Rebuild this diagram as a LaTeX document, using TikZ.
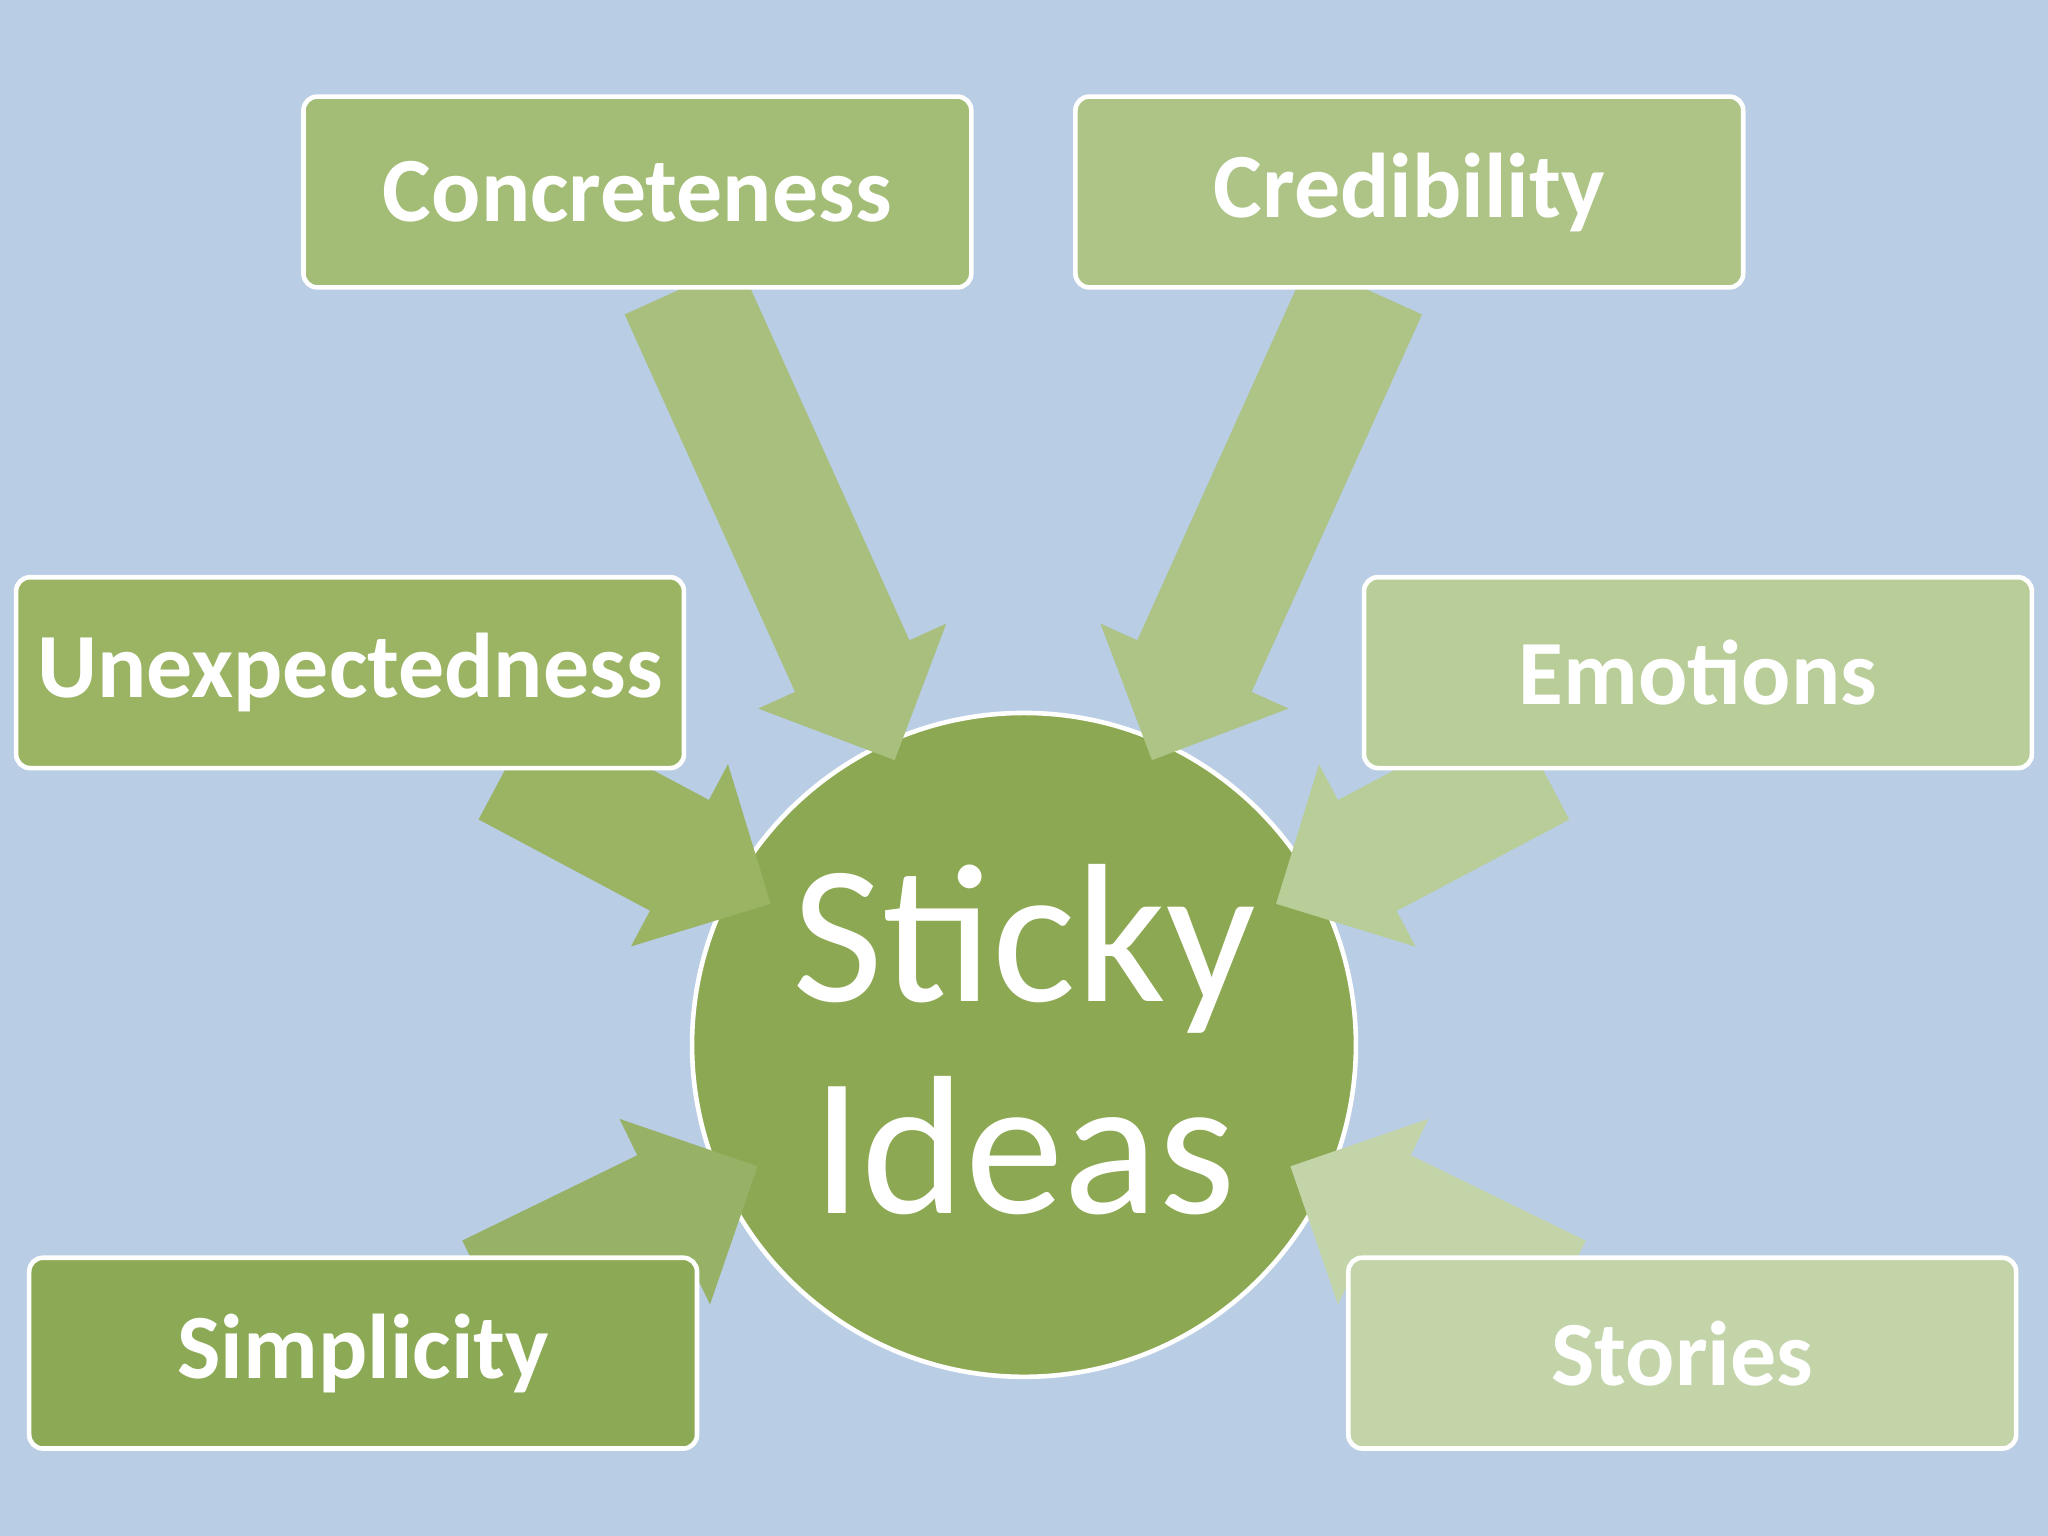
\documentclass[tikz,border=0pt]{standalone}
\usepackage{fontspec}
\setmainfont{Carlito}
\usetikzlibrary{calc}
\definecolor{bg}{HTML}{B9CDE5}
\definecolor{cC}{HTML}{A3BC76}
\definecolor{cR}{HTML}{ADC486}
\definecolor{cU}{HTML}{9AB463}
\definecolor{cE}{HTML}{B8CD97}
\definecolor{cS}{HTML}{8CAA55}
\definecolor{cT}{HTML}{C2D4A8}
\definecolor{cI}{HTML}{8DA852}
\newcommand{\blockarrow}[3]{%
  \coordinate (hb) at ($(#2)!0.79cm!(#1)$);
  \fill[#3] ($(#1)!0.48cm!90:(#2)$) -- ($(hb)!0.48cm!-90:(#1)$) -- ($(hb)!0.79cm!-90:(#1)$) -- (#2)
    -- ($(hb)!0.79cm!90:(#1)$) -- ($(hb)!0.48cm!90:(#1)$) -- ($(#1)!0.48cm!-90:(#2)$) -- cycle;}
\tikzset{box/.style={draw=white,line width=1pt,rounded corners=3pt,minimum width=5.11cm,minimum height=1.46cm,text=white,font=\bfseries\fontsize{20}{24}\selectfont,inner sep=0pt}}
\begin{document}
\begin{tikzpicture}[x=0.01cm,y=-0.01cm]
\fill[bg] (0,0) rectangle (1568,1176);
\node[circle,draw=white,line width=1pt,fill=cI,minimum size=5.08cm,inner sep=0pt] (ideas) at (784,800) {};
\coordinate (a1) at (522,221); \coordinate (t1) at (685,582);
\coordinate (a2) at (1045,221); \coordinate (t2) at (882,582);
\coordinate (a3) at (389,585); \coordinate (t3) at (590,692);
\coordinate (a4) at (1179,585); \coordinate (t4) at (977,692);
\coordinate (a5) at (375,993); \coordinate (t5) at (580,893);
\coordinate (a6) at (1193,993); \coordinate (t6) at (988,893);
\blockarrow{a1}{t1}{cC!95!white}
\blockarrow{a2}{t2}{cR}
\blockarrow{a3}{t3}{cU}
\blockarrow{a4}{t4}{cE}
\blockarrow{a5}{t5}{cS!90!white}
\blockarrow{a6}{t6}{cT}
\node[text=white,align=center,font=\fontsize{43}{46}\selectfont] (lbl) at (784,796) {Sticky\\Ideas};
\node[box,fill=cC] (conc) at (488,147) {Concreteness};
\node[box,fill=cR] (cred) at (1079,147) {Credibility};
\node[box,fill=cU] (unex) at (268,515) {Unexpectedness};
\node[box,fill=cE] (emo) at (1300,515) {Emotions};
\node[box,fill=cS] (simp) at (278,1036) {Simplicity};
\node[box,fill=cT] (stor) at (1288,1036) {Stories};
\end{tikzpicture}
\end{document}
